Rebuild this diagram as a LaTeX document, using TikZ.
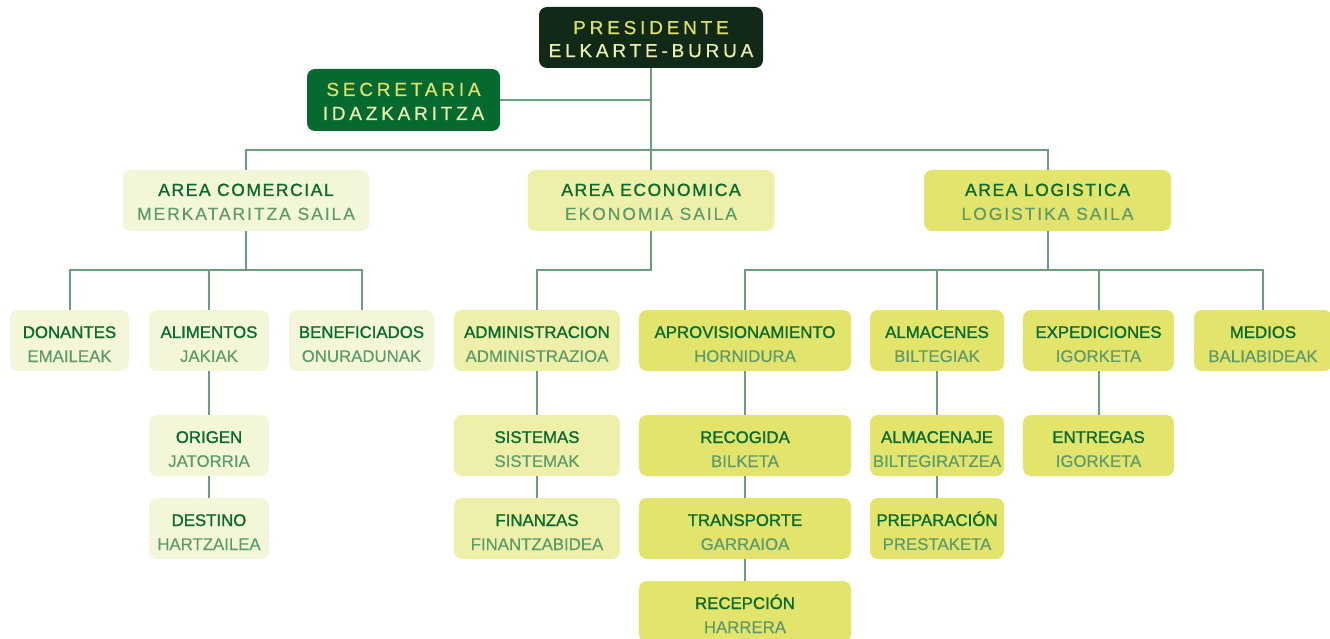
\documentclass[tikz,border=0pt]{standalone}
\usepackage{fontspec}
\setmainfont{Liberation Sans}
\newfontfamily\widefont[LetterSpace=20,FakeBold=0.6]{Liberation Sans}
\newfontfamily\areafont[LetterSpace=11,FakeBold=0.3]{Liberation Sans}
\newfontfamily\areattl[LetterSpace=9,FakeBold=1.3]{Liberation Sans}
\newfontfamily\ttlfont[FakeBold=1.3]{Liberation Sans}
\newfontfamily\subfont[FakeBold=0.3]{Liberation Sans}
\usepackage{xcolor}
\usepackage{tikz}
\definecolor{cdark}{HTML}{102A17}
\definecolor{csec}{HTML}{066A30}
\definecolor{ccom}{HTML}{F4F6D9}
\definecolor{ceco}{HTML}{EEF0AA}
\definecolor{clog}{HTML}{E3E46B}
\definecolor{cttl}{HTML}{0B6B2D}
\definecolor{csub}{HTML}{5C9A6C}
\definecolor{clink}{HTML}{6B9E7C}
\definecolor{chead}{HTML}{DDE16A}
\definecolor{cheadb}{HTML}{ECEEB0}

\newcommand{\duo}[2]{\rule{0pt}{19pt}\textcolor{cttl}{\ttlfont #1}\\\textcolor{csub}{\subfont #2}}
\newcommand{\area}[2]{\rule{0pt}{15pt}\textcolor{cttl}{\areattl #1}\\\textcolor{csub}{\areafont #2}}
\newcommand{\head}[2]{\rule{0pt}{16.5pt}\textcolor{chead}{#1}\\\textcolor{cheadb}{#2}}

\begin{document}
\begin{tikzpicture}[x=1pt,y=-1pt,
  box/.style={rounded corners=8pt,minimum height=61pt,inner sep=0pt,align=center,
    font=\fontsize{16.8}{24}\selectfont},
  areabox/.style={box,minimum width=247pt,font=\fontsize{17.5}{24}\selectfont},
  headbox/.style={box,font=\fontsize{19}{23}\selectfont\widefont},
  link/.style={draw=clink,line width=2pt}]
  \useasboundingbox (0,0) rectangle (1330,639);
  % top
  \node[headbox,fill=cdark,minimum width=224pt] (pres) at (651,37.5) {\head{PRESIDENTE}{ELKARTE-BURUA}};
  \node[headbox,fill=csec,minimum width=193pt,minimum height=62pt,font=\fontsize{19}{24}\selectfont\widefont] (sec) at (403.5,100) {\rule{0pt}{16pt}\textcolor{chead}{SECRETARIA}\\\textcolor{cheadb}{IDAZKARITZA}};
  % areas
  \node[areabox,fill=ccom] (com) at (246,200.5) {\area{AREA COMERCIAL}{MERKATARITZA SAILA}};
  \node[areabox,fill=ceco] (eco) at (651,200.5) {\area{AREA ECONOMICA}{EKONOMIA SAILA}};
  \node[areabox,fill=clog] (log) at (1047.5,200.5) {\area{AREA LOGISTICA}{LOGISTIKA SAILA}};
  % comercial
  \node[box,fill=ccom,minimum width=119pt] (don) at (69.5,340.5) {\duo{DONANTES}{EMAILEAK}};
  \node[box,fill=ccom,minimum width=120pt] (ali) at (209,340.5) {\duo{ALIMENTOS}{JAKIAK}};
  \node[box,fill=ccom,minimum width=145pt] (ben) at (361.5,340.5) {\duo{BENEFICIADOS}{ONURADUNAK}};
  \node[box,fill=ccom,minimum width=120pt] (ori) at (209,445.5) {\duo{ORIGEN}{JATORRIA}};
  \node[box,fill=ccom,minimum width=120pt] (des) at (209,528.5) {\duo{DESTINO}{HARTZAILEA}};
  % economica
  \node[box,fill=ceco,minimum width=166pt] (adm) at (537,340.5) {\duo{ADMINISTRACION}{ADMINISTRAZIOA}};
  \node[box,fill=ceco,minimum width=166pt] (sis) at (537,445.5) {\duo{SISTEMAS}{SISTEMAK}};
  \node[box,fill=ceco,minimum width=166pt] (fin) at (537,528.5) {\duo{FINANZAS}{FINANTZABIDEA}};
  % logistica
  \node[box,fill=clog,minimum width=212pt] (apr) at (745,340.5) {\duo{APROVISIONAMIENTO}{HORNIDURA}};
  \node[box,fill=clog,minimum width=212pt] (rec) at (745,445.5) {\duo{RECOGIDA}{BILKETA}};
  \node[box,fill=clog,minimum width=212pt] (tra) at (745,528.5) {\duo{TRANSPORTE}{GARRAIOA}};
  \node[box,fill=clog,minimum width=212pt] (rcp) at (745,611.5) {\duo{RECEPCIÓN}{HARRERA}};
  \node[box,fill=clog,minimum width=134pt] (alm) at (937,340.5) {\duo{ALMACENES}{BILTEGIAK}};
  \node[box,fill=clog,minimum width=134pt] (amj) at (937,445.5) {\duo{ALMACENAJE}{BILTEGIRATZEA}};
  \node[box,fill=clog,minimum width=134pt] (pre) at (937,528.5) {\duo{PREPARACIÓN}{PRESTAKETA}};
  \node[box,fill=clog,minimum width=151pt] (exp) at (1098.5,340.5) {\duo{EXPEDICIONES}{IGORKETA}};
  \node[box,fill=clog,minimum width=151pt] (ent) at (1098.5,445.5) {\duo{ENTREGAS}{IGORKETA}};
  \node[box,fill=clog,minimum width=138pt] (med) at (1263,340.5) {\duo{MEDIOS}{BALIABIDEAK}};
  % links
  \coordinate (hub) at (651,150);
  \coordinate (sub) at (0,270);
  \draw[link] (pres.south) -- (eco.north);
  \draw[link] (sec.east) -- (sec.east -| pres.south);
  \draw[link] (com.north) |- (hub) -| (log.north);
  \draw[link] (com.south) -- (com.south |- sub);
  \draw[link] (don.north) |- (sub -| com.south) -| (ben.north);
  \draw[link] (ali.north) -- (ali.north |- sub);
  \draw[link] (ali.south) -- (ori.north);
  \draw[link] (ori.south) -- (des.north);
  \draw[link] (eco.south) -- (eco.south |- sub) -| (adm.north);
  \draw[link] (adm.south) -- (sis.north);
  \draw[link] (sis.south) -- (fin.north);
  \draw[link] (log.south) -- (log.south |- sub);
  \draw[link] (apr.north) |- (sub -| log.south) -| (med.north);
  \draw[link] (alm.north) -- (alm.north |- sub);
  \draw[link] (exp.north) -- (exp.north |- sub);
  \draw[link] (apr.south) -- (rec.north);
  \draw[link] (rec.south) -- (tra.north);
  \draw[link] (tra.south) -- (rcp.north);
  \draw[link] (alm.south) -- (amj.north);
  \draw[link] (amj.south) -- (pre.north);
  \draw[link] (exp.south) -- (ent.north);
\end{tikzpicture}
\end{document}
